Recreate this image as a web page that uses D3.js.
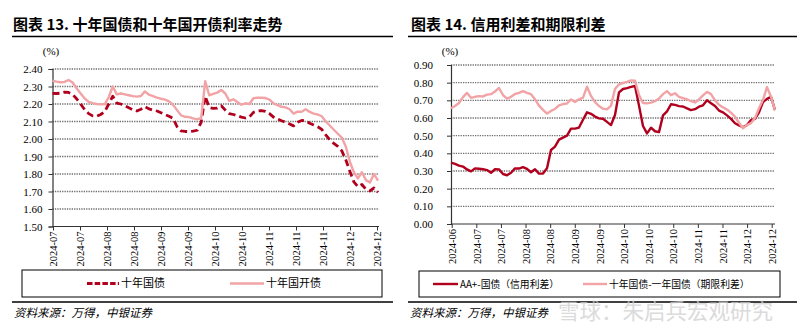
<!DOCTYPE html>
<html><head><meta charset="utf-8">
<script src="https://cdn.jsdelivr.net/npm/d3@7/dist/d3.min.js"></script>
<style>
html,body{margin:0;padding:0;background:#fff;}
svg{display:block;}
.cjk{font-family:"Noto Sans CJK SC","Noto Sans",sans-serif;}
.num{font-family:"Liberation Serif","DejaVu Serif",serif;}
</style></head>
<body>
<script>
// ---------- DATA ----------
const leftTickLabels = ["2024-07","2024-07","2024-08","2024-08","2024-09","2024-09","2024-10","2024-10","2024-11","2024-11","2024-11","2024-12","2024-12"];
const rightTickLabels = ["2024-06","2024-07","2024-07","2024-08","2024-08","2024-09","2024-09","2024-10","2024-10","2024-10","2024-11","2024-11","2024-12","2024-12"];
const leftYTicks = [1.50,1.60,1.70,1.80,1.90,2.00,2.10,2.20,2.30,2.40];
const rightYTicks = [0.00,0.10,0.20,0.30,0.40,0.50,0.60,0.70,0.80,0.90];

// 十年国债 (%)
const gov10 = [2.261,2.26,2.262,2.268,2.266,2.255,2.23,2.20,2.168,2.145,2.132,2.13,2.14,2.156,2.20,2.245,2.205,2.20,2.19,2.178,
2.167,2.16,2.17,2.185,2.172,2.165,2.16,2.15,2.14,2.13,2.118,2.07,2.046,2.043,2.043,2.045,2.05,2.095,2.245,2.18,
2.175,2.177,2.19,2.165,2.145,2.14,2.133,2.125,2.12,2.126,2.152,2.16,2.162,2.158,2.145,2.125,2.114,2.104,2.096,2.086,
2.075,2.096,2.106,2.104,2.09,2.08,2.07,2.055,2.023,1.995,1.975,1.958,1.932,1.88,1.815,1.755,1.728,1.74,1.712,1.703,
1.72,1.695];
// 十年国开债 (%)
const cdb10 = [2.333,2.328,2.324,2.326,2.337,2.323,2.29,2.26,2.232,2.212,2.205,2.20,2.198,2.198,2.24,2.30,2.255,2.26,2.255,2.25,
2.245,2.242,2.246,2.272,2.253,2.245,2.236,2.23,2.225,2.215,2.195,2.165,2.135,2.127,2.125,2.118,2.112,2.12,2.33,2.25,
2.258,2.265,2.28,2.26,2.218,2.227,2.212,2.196,2.204,2.20,2.233,2.236,2.236,2.234,2.225,2.204,2.194,2.184,2.181,2.17,
2.145,2.156,2.156,2.17,2.155,2.145,2.14,2.13,2.10,2.077,2.053,2.03,2.008,1.956,1.87,1.81,1.775,1.81,1.765,1.752,
1.80,1.762];
// AA+-国债（信用利差）
const creditSpread = [0.347,0.34,0.33,0.325,0.309,0.298,0.315,0.313,0.31,0.305,0.29,0.31,0.309,0.283,0.276,0.29,0.315,0.314,0.322,0.312,
0.293,0.31,0.285,0.286,0.315,0.419,0.438,0.478,0.489,0.50,0.54,0.54,0.546,0.59,0.632,0.624,0.608,0.598,0.596,0.578,
0.56,0.617,0.745,0.764,0.769,0.776,0.781,0.67,0.555,0.513,0.545,0.525,0.52,0.615,0.638,0.678,0.674,0.667,0.665,0.655,
0.645,0.65,0.664,0.672,0.70,0.684,0.668,0.642,0.632,0.615,0.595,0.57,0.558,0.548,0.56,0.588,0.595,0.632,0.69,0.708,
0.72,0.645];
// 十年国债-一年国债（期限利差）
const termSpread = [0.655,0.668,0.685,0.718,0.742,0.714,0.72,0.724,0.722,0.732,0.735,0.75,0.77,0.73,0.709,0.72,0.736,0.742,0.752,0.742,
0.735,0.706,0.67,0.646,0.625,0.64,0.651,0.672,0.679,0.682,0.705,0.69,0.706,0.715,0.777,0.725,0.69,0.668,0.653,0.649,
0.67,0.765,0.79,0.798,0.805,0.813,0.811,0.73,0.685,0.683,0.687,0.695,0.71,0.735,0.752,0.73,0.74,0.72,0.713,0.706,
0.695,0.688,0.705,0.728,0.748,0.735,0.70,0.675,0.66,0.648,0.63,0.607,0.573,0.542,0.56,0.571,0.60,0.655,0.703,0.775,
0.72,0.645];

// ---------- DRAW ----------
const W = 800, H = 335;
const DARK = "#B0001E", PINK = "#F2A3A6";
const svg = d3.select("body").append("svg").attr("width", W).attr("height", H);

function header(x0, x1, titleX, title, unitX) {
  svg.append("text").attr("class","cjk").attr("x", titleX).attr("y", 30)
    .attr("font-size", 15).attr("font-weight", "bold").attr("fill", "#000").text(title);
  svg.append("line").attr("x1", x0).attr("x2", x1).attr("y1", 36.5).attr("y2", 36.5)
    .attr("stroke", "#000").attr("stroke-width", 1.5);
  svg.append("text").attr("class","num").attr("x", unitX).attr("y", 55)
    .attr("font-size", 11).attr("text-anchor","middle").text("(%)");
}

function panel(opt) {
  const g = svg.append("g");
  const y = d3.scaleLinear().domain(opt.yDomain).range(opt.yRange);
  const x = d3.scaleLinear().domain([0, opt.series[0].values.length - 1]).range(opt.xRange);
  const xt = d3.scalePoint().domain(d3.range(opt.tickLabels.length)).range(opt.tickRange);

  // grid
  g.selectAll("line.grid").data(opt.yTicks.slice(1)).enter().append("line")
    .attr("x1", opt.xRange[0]).attr("x2", opt.gridEnd)
    .attr("y1", d => y(d)).attr("y2", d => y(d))
    .attr("stroke", "#6e6e6e").attr("stroke-width", 1.3).attr("stroke-dasharray", "1.3,1.1");

  // y axis
  const ya = g.append("g").attr("transform", `translate(${opt.xRange[0]},0)`)
    .call(d3.axisLeft(y).tickValues(opt.yTicks).tickFormat(d3.format(".2f")).tickSize(4).tickPadding(opt.yPad));
  ya.select(".domain").attr("stroke", "#333").attr("stroke-width", 1.2);
  ya.selectAll(".tick line").attr("stroke", "#333");
  ya.selectAll("text").attr("class","num").attr("font-size", 11).attr("fill", "#000");

  // x axis
  const xa = g.append("g").attr("transform", `translate(0,${opt.yRange[0]})`)
    .call(d3.axisBottom(xt).tickFormat(i => opt.tickLabels[i]).tickSize(4).tickSizeOuter(0));
  xa.select(".domain").attr("stroke", "#333").attr("stroke-width", 1.2)
    .attr("d", `M${opt.xRange[0]},0H${opt.gridEnd}`);
  xa.selectAll(".tick line").attr("stroke", "#333");
  xa.selectAll("text").attr("class","num").attr("font-size", 10.5).attr("fill", "#000")
    .attr("transform", "rotate(-90)").attr("text-anchor", "end")
    .attr("x", -5).attr("y", 0).attr("dy", "0.35em");

  // lines
  const line = d3.line().x((d, i) => x(i)).y(d => y(d));
  opt.series.forEach(s => {
    g.append("path").datum(s.values).attr("d", line).attr("fill", "none")
      .attr("stroke", s.color).attr("stroke-width", s.width)
      .attr("stroke-dasharray", s.dash || null).attr("stroke-linejoin", "round");
  });

  // legend
  const lb = opt.legendBox;
  g.append("rect").attr("x", lb[0]).attr("y", lb[1]).attr("width", lb[2]).attr("height", lb[3])
    .attr("fill", "#fff").attr("stroke", "#000").attr("stroke-width", 1);
  opt.series.forEach(s => {
    const ly = lb[1] + lb[3] / 2;
    g.append("line").attr("x1", s.lx).attr("x2", s.lx + s.lw).attr("y1", ly).attr("y2", ly)
      .attr("stroke", s.color).attr("stroke-width", s.width).attr("stroke-dasharray", s.ldash || null);
    g.append("text").attr("class","cjk").attr("x", s.lx + s.lw + 2).attr("y", ly).attr("dy", "0.36em")
      .attr("font-size", opt.legendFont).attr("fill", "#000").text(s.name);
  });

  // bottom rule + source
  svg.append("line").attr("x1", opt.ruleX[0]).attr("x2", opt.ruleX[1]).attr("y1", 302).attr("y2", 302)
    .attr("stroke", "#000").attr("stroke-width", 1.5);
  svg.append("text").attr("class","cjk").attr("x", opt.ruleX[0] + 2).attr("y", 317)
    .attr("font-size", 11.5).attr("font-style", "italic").attr("fill", "#000").text("资料来源：万得，中银证券");
}

header(12, 393, 13, "图表 13. 十年国债和十年国开债利率走势", 51);
header(408, 797, 411, "图表 14. 信用利差和期限利差", 450);

panel({
  yDomain: [1.5, 2.4], yRange: [226.5, 69], xRange: [52.5, 378], gridEnd: 379, yPad: 6,
  tickLabels: leftTickLabels, tickRange: [53, 377], yTicks: leftYTicks,
  legendBox: [22, 270, 360, 27], ruleX: [12, 393], legendFont: 11,
  series: [
    {name: "十年国债", values: gov10, color: DARK, width: 2.8, dash: "7,4", ldash: "5.5,2.2", lx: 87, lw: 32},
    {name: "十年国开债", values: cdb10, color: PINK, width: 2.4, lx: 230, lw: 34}
  ]
});

panel({
  yDomain: [0, 0.9], yRange: [224, 65], xRange: [451, 775], gridEnd: 775, yPad: 14,
  tickLabels: rightTickLabels, tickRange: [451.7, 771.7], yTicks: rightYTicks,
  legendBox: [419, 271, 361, 26], ruleX: [408, 797], legendFont: 9.8,
  series: [
    {name: "AA+-国债（信用利差）", values: creditSpread, color: DARK, width: 2.4, lx: 433, lw: 25},
    {name: "十年国债-一年国债（期限利差）", values: termSpread, color: PINK, width: 2.4, lx: 583, lw: 24}
  ]
});

// watermark
svg.append("text").attr("class","cjk").attr("x", 558).attr("y", 319).attr("font-size", 21.5)
  .attr("fill", "#cfcfcf").attr("opacity", 0.75).text("雪球：朱启兵宏观研究");
</script>
</body></html>
